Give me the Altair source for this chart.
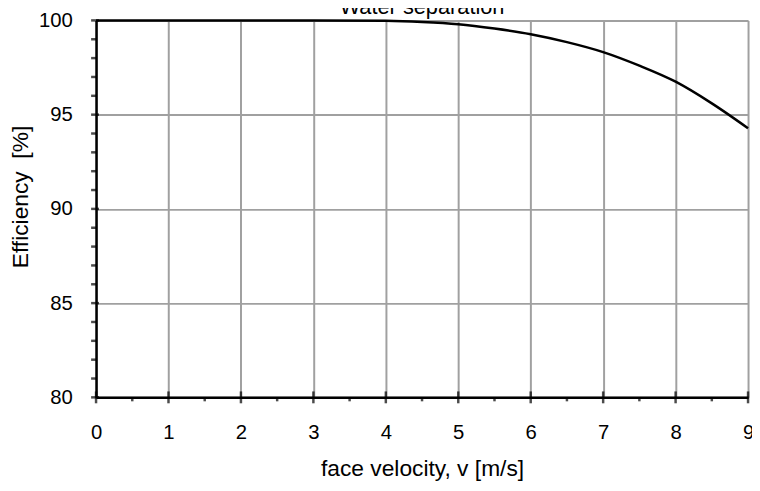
import altair as alt
import pandas as pd

velocity = [0, 1, 2, 3, 4, 4.5, 5, 5.5, 6, 6.5, 7, 7.5, 8, 8.5, 9]
efficiency = [100, 100, 100, 100, 99.98, 99.92, 99.8, 99.57, 99.27, 98.85, 98.32, 97.6, 96.75, 95.6, 94.28]

x_major = [0, 1, 2, 3, 4, 5, 6, 7, 8, 9]
x_minor = [0.5, 1.5, 2.5, 3.5, 4.5, 5.5, 6.5, 7.5, 8.5]
y_major = [80, 85, 90, 95, 100]
y_minor = [81, 82, 83, 84, 86, 87, 88, 89, 91, 92, 93, 94, 96, 97, 98, 99]
chart_title = ["Water separation"]

FONT = "Liberation Sans"

df = pd.DataFrame({"v": velocity, "eff": efficiency})
xs = alt.Scale(domain=[0, 9], nice=False)
ys = alt.Scale(domain=[80, 100], nice=False)

base = alt.Chart(df).mark_line(color="black", strokeWidth=2.5, interpolate="monotone", clip=False).encode(
    x=alt.X("v:Q", scale=xs, axis=alt.Axis(
        values=x_major, format="d", title="face velocity, v [m/s]", tickSize=0, labelPadding=26,
        labelFontSize=20.5, labelFont=FONT, labelColor="black",
        titleFontSize=23, titleFont=FONT, titleFontWeight="normal", titleColor="black",
        titlePadding=14, grid=True, gridColor="#a0a0a0", gridWidth=2,
        domainColor="black", domainWidth=2.5, labelFlush=False)),
    y=alt.Y("eff:Q", scale=ys, axis=alt.Axis(
        values=y_major, format="d", title="Efficiency\u00a0\u00a0[%]", tickSize=0, labelPadding=24,
        labelFontSize=20.5, labelFont=FONT, labelColor="black",
        titleFontSize=23, titleFont=FONT, titleFontWeight="normal", titleColor="black",
        titlePadding=6, titleY=178, grid=True, gridColor="#a0a0a0", gridWidth=2,
        domainColor="black", domainWidth=2.5)),
)

xmaj = alt.Chart(pd.DataFrame({"x": x_major, "y": [80] * len(x_major)})).mark_tick(
    orient="vertical", color="black", size=12, thickness=2.5).encode(
    x=alt.X("x:Q", scale=xs), y=alt.Y("y:Q", scale=ys))
xmin = alt.Chart(pd.DataFrame({"x": x_minor, "y": [80] * len(x_minor)})).mark_tick(
    orient="vertical", color="black", size=4, thickness=2.5, yOffset=2).encode(
    x=alt.X("x:Q", scale=xs), y=alt.Y("y:Q", scale=ys))
ymaj = alt.Chart(pd.DataFrame({"x": [0] * len(y_major), "y": y_major})).mark_tick(
    orient="horizontal", color="black", size=8, thickness=2.5, xOffset=-1).encode(
    x=alt.X("x:Q", scale=xs), y=alt.Y("y:Q", scale=ys))
ymin = alt.Chart(pd.DataFrame({"x": [0] * len(y_minor), "y": y_minor})).mark_tick(
    orient="horizontal", color="black", size=5, thickness=2.5, xOffset=-2.5).encode(
    x=alt.X("x:Q", scale=xs), y=alt.Y("y:Q", scale=ys))

title_text = alt.Chart(pd.DataFrame({"t": chart_title})).mark_text(
    font=FONT, fontSize=22, color="black", align="center", baseline="alphabetic").encode(
    text="t:N", x=alt.value(329.5), y=alt.value(-6))

chart = alt.layer(base, xmaj, xmin, ymaj, ymin, title_text).properties(
    width=659, height=381,
    autosize=alt.AutoSizeParams(type="none"),
    padding={"left": 89, "top": 10, "right": 4, "bottom": 84},
).configure_view(stroke=None).configure(background="white")

chart.save("out.html", embed_options={"renderer": "svg", "actions": False})
